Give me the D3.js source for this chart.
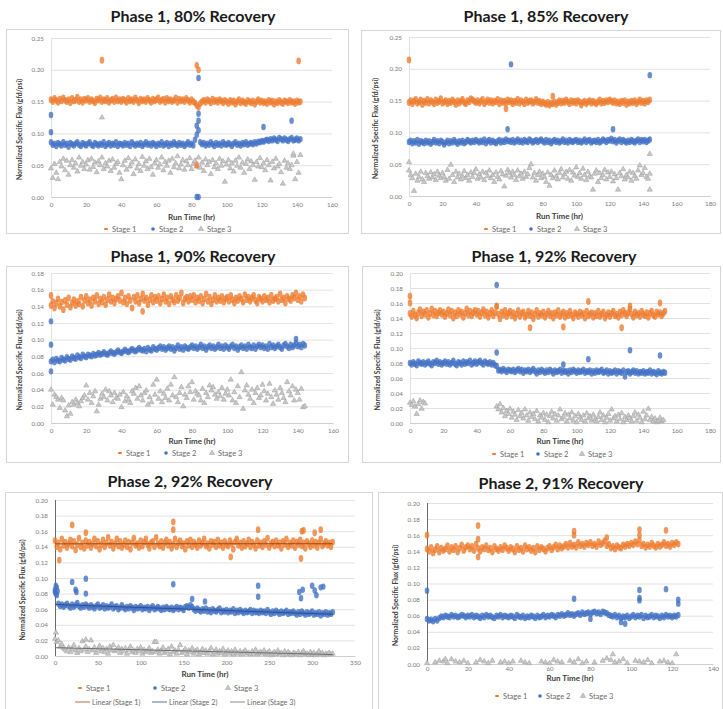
<!DOCTYPE html>
<html>
<head>
<meta charset="utf-8">
<script src="https://cdn.jsdelivr.net/npm/d3@7"></script>
<style>
  body { margin: 0; background: #fff; }
  text { font-family: Lato, "Open Sans", sans-serif; }
</style>
</head>
<body>
<svg id="chart" width="723" height="709"></svg>
<script>
// flux readings in 0.001 gfd/psi, one reading per sampling step (hr)
// ---------- Phase 1, 80% Recovery (step 1 hr) ----------
const p1Stage1 = [153,150,155,152,149,154,151,156,152,150,153,148,155,151,152,157,150,153,149,154,
  152,155,150,153,151,148,154,152,156,150,153,151,155,149,152,154,150,156,151,153,
  150,154,152,149,155,151,153,150,156,152,148,154,151,153,150,155,152,149,154,151,
  153,156,150,152,154,149,155,151,153,150,152,156,149,154,151,153,150,155,152,149,
  153,150,148,144,141,147,150,152,149,153,151,148,154,150,152,149,153,151,148,152,
  150,147,152,149,151,146,150,153,148,151,149,147,152,150,148,151,146,150,153,149,
  151,148,150,147,152,149,151,146,150,148,152,149,147,151,150,148,152,149,150,147,
  151,149,150];
const p1Stage2 = [86,82,84,80,85,83,81,86,82,84,79,85,83,81,84,86,82,80,85,83,
  81,84,86,82,80,85,83,81,84,82,86,80,83,85,81,84,82,86,80,84,
  83,81,85,82,84,80,86,83,81,84,82,85,80,83,86,82,84,81,85,83,
  80,84,82,86,81,83,85,80,84,82,86,83,81,85,82,84,80,83,86,82,
  84,81,90,98,105,86,83,85,81,84,82,86,83,80,85,82,84,81,86,83,
  82,85,83,80,84,86,82,84,81,85,83,86,82,84,85,83,86,84,87,86,
  88,87,89,90,88,91,89,92,90,88,93,91,89,92,90,88,91,93,89,90,
  92,89,91];
const p1Stage3 = [45,30,52,38,28,55,48,60,42,57,35,50,58,46,53,40,62,49,55,44,
  51,58,43,60,47,54,39,56,50,62,44,53,48,57,41,59,46,52,55,38,
  28,50,57,43,61,48,54,36,59,45,52,41,63,49,56,44,60,47,35,53,
  58,46,51,62,42,55,49,57,38,60,47,53,64,45,51,58,43,56,50,61,
  44,52,57,48,62,46,54,41,59,50,55,36,58,47,53,44,60,49,56,24,
  51,58,45,53,40,57,49,62,46,54,38,52,59,44,56,50,27,55,48,61,
  47,53,42,58,50,26,55,45,60,48,52,39,21,57,46,53,44,50,65,28,
  55,38,66];
const p1Out1 = [[29,215],[83,207],[84,200],[141,214],[83,50]];
const p1Out2 = [[0,129],[0,102],[84,187],[84,131],[84,120],[83,112],[121,110],[137,120],[83,0],[84,0]];
const p1Out3 = [[29,125],[138,68]];

// ---------- Phase 1, 85% Recovery (step 1 hr) ----------
const p2Stage1 = [147,150,145,149,152,146,148,151,144,149,147,152,146,150,148,145,151,147,149,153,
  146,148,150,145,149,147,151,148,144,150,146,149,152,147,145,150,148,153,151,149,
  147,150,146,149,152,145,148,151,147,150,146,149,148,152,145,150,147,149,146,151,
  148,150,145,149,147,152,146,150,148,145,151,147,149,150,146,148,152,147,149,145,
  148,146,144,147,143,146,145,148,144,147,150,146,149,147,151,148,145,150,147,149,
  146,150,148,143,147,149,145,148,150,146,149,147,145,148,151,146,149,147,150,148,
  151,149,147,150,146,148,145,149,147,150,144,148,146,149,147,150,145,148,151,147,
  149,146,150,148,151];
const p2Stage2 = [85,87,83,86,84,88,82,86,85,83,87,84,86,82,85,88,84,86,83,87,
  85,81,84,87,83,86,84,88,85,82,86,84,87,83,85,88,86,84,87,85,
  88,86,84,87,85,89,83,86,88,84,87,85,83,86,88,84,87,85,89,86,
  87,85,88,84,86,89,85,87,84,88,86,85,89,87,84,86,88,85,87,89,
  86,84,88,85,87,83,86,88,85,87,84,86,89,85,87,84,88,86,85,87,
  88,85,87,84,86,89,85,87,88,84,86,87,85,88,84,86,89,87,85,88,
  87,90,86,88,84,87,89,85,88,86,84,87,85,88,86,84,87,89,85,88,
  86,88,85,87,89];
const p2Stage3 = [40,33,28,8,35,24,30,38,26,22,36,31,27,37,29,34,25,38,32,28,
  36,30,24,41,27,49,33,22,38,29,35,26,31,39,28,33,24,37,30,36,
  42,27,34,29,38,25,36,31,40,28,33,22,37,30,26,39,34,15,32,41,
  36,29,38,33,25,40,31,35,27,38,30,34,44,50,29,36,24,33,38,28,
  35,30,22,37,16,33,28,40,31,26,36,42,29,34,38,27,41,24,37,32,
  45,30,36,27,43,33,25,38,31,29,10,35,40,22,36,28,33,41,26,37,
  30,38,23,34,28,10,36,31,42,26,33,29,38,24,36,31,27,40,48,33,
  36,44,30,27,35];
const p2Out1 = [[0,214],[86,157],[58,137]];
const p2Out2 = [[61,207],[144,190],[59,105],[122,105]];
const p2Out3 = [[0,53],[144,66],[144,10]];

// ---------- Phase 1, 90% Recovery (step 1 hr) ----------
const p3Stage1 = [141,146,138,144,149,140,145,136,147,142,150,139,144,148,141,146,143,151,140,147,
  152,144,148,141,150,146,153,143,149,145,151,142,148,154,146,150,144,149,152,147,
  156,145,150,143,152,147,138,151,146,153,144,149,155,147,150,142,148,153,145,151,
  147,152,144,149,154,146,150,143,152,148,145,153,147,150,156,144,149,151,146,152,
  148,153,145,150,147,152,144,149,155,146,151,143,148,153,146,150,147,152,145,149,
  151,146,153,148,144,150,147,152,149,145,154,148,151,146,150,153,147,144,151,149,
  146,152,148,150,145,153,147,149,151,146,155,148,150,144,152,149,147,153,150,156,
  148,152,146,154,150];
const p3Stage2 = [74,76,73,77,75,74,78,76,75,79,77,76,80,78,77,81,79,78,82,80,
  79,82,81,80,83,81,82,84,82,83,85,83,82,84,86,84,83,85,87,85,
  84,86,88,86,85,87,89,87,86,88,90,88,87,89,86,90,88,87,91,89,
  88,90,92,89,91,88,90,92,89,91,87,90,93,89,91,88,92,90,89,91,
  93,90,92,89,91,94,90,92,88,91,93,90,92,89,91,94,90,92,89,93,
  91,89,92,94,90,92,88,91,93,90,92,89,94,91,90,93,89,92,94,91,
  93,90,92,89,95,91,93,90,92,94,91,89,93,95,92,90,94,91,93,96,
  92,94,91,95,93];
const p3Stage3 = [40,22,34,31,28,18,30,27,15,8,21,11,25,22,28,24,20,26,30,33,
  45,28,36,24,32,38,14,22,29,35,31,40,27,38,33,25,36,30,29,34,
  19,37,26,32,28,24,38,35,42,29,44,33,27,36,39,22,31,25,46,34,
  52,29,38,25,35,30,41,27,46,33,55,31,25,36,43,20,34,30,44,37,
  49,28,38,35,33,27,41,24,36,31,45,39,43,34,29,37,32,42,28,35,
  40,33,52,27,37,24,44,31,61,17,39,45,34,29,40,24,36,42,30,33,
  46,38,27,35,47,31,23,39,34,28,42,36,30,25,49,38,33,44,27,40,
  36,28,41,19,20];
const p3Out1 = [[0,153],[52,134]];
const p3Out2 = [[0,122],[0,94],[0,62],[139,101]];
const p3Out3 = [];

// ---------- Phase 1, 92% Recovery (step 1 hr) ----------
const p4Stage1 = [146,142,149,144,140,147,151,143,148,145,150,141,146,152,144,149,143,147,150,145,
  148,142,146,151,144,149,140,147,143,150,145,148,141,146,152,144,149,143,147,150,
  145,149,142,147,151,144,148,141,146,150,143,147,156,145,139,148,144,150,142,146,
  149,143,147,140,145,150,142,146,148,141,144,149,143,147,139,145,150,142,146,144,
  148,141,145,149,143,146,140,147,144,150,142,145,148,141,146,143,149,144,140,147,
  145,142,148,144,146,140,149,143,145,147,141,146,143,149,142,145,148,140,144,147,
  142,146,149,143,145,141,148,144,150,146,143,147,152,145,141,148,144,146,142,149,
  145,143,147,141,146,149,144,142,148,145,147,143,146,149];
const p4Stage2 = [80,78,81,79,77,82,80,79,81,78,80,82,79,77,81,80,83,79,81,78,
  80,82,79,81,78,80,83,79,77,81,80,78,82,79,81,80,83,78,80,82,
  79,81,83,80,78,82,80,79,81,78,80,77,76,70,71,69,72,70,68,71,
  70,69,71,68,70,72,69,71,67,70,69,71,68,70,72,69,66,70,68,71,
  69,67,70,68,71,69,66,70,68,69,71,67,70,68,69,66,70,68,71,69,
  67,70,68,69,71,67,69,68,70,66,69,67,70,68,69,71,67,68,70,66,
  69,67,68,70,66,69,68,67,70,62,68,69,66,68,70,67,69,66,68,67,
  69,66,68,67,70,66,68,67,65,69,67,66,68,67];
const p4Stage3a = [27,24,29,22,12,25,30,19,28,26];           // from 0 hr
const p4Stage3b = [22,18,25,14,20,9,16,12,19,7,15,11,4,17,9,13,6,18,10,3,   // from 52 hr
  14,8,12,5,16,2,10,7,13,4,11,1,9,15,6,12,3,10,18,5,
  8,13,2,11,6,14,3,9,1,12,7,4,10,2,13,6,9,3,11,5,
  2,8,14,4,10,1,7,12,3,18,6,9,2,11,5,13,1,8,4,10,
  6,2,9,14,3,11,7,1,15,5,10,19,4,8,2,6,1,3,7,2,4];
const p4Out1 = [[0,169],[0,160],[107,162],[150,160],[52,155],[72,127],[92,128],[127,127],[132,156]];
const p4Out2 = [[52,184],[52,94],[107,85],[132,97],[150,90],[92,78]];
const p4Out3 = [];

// ---------- Phase 2, 92% Recovery (step 2 hr) ----------
const p5Stage1 = [148,140,145,137,150,142,146,139,144,149,141,147,136,143,151,140,145,138,148,142,
  146,139,144,150,141,147,137,143,149,140,145,152,142,146,138,144,150,141,147,139,
  143,148,140,146,137,145,151,142,144,139,148,141,146,150,143,138,145,147,140,152,
  144,141,147,139,145,149,142,146,138,143,150,140,145,148,141,144,137,147,142,149,
  140,146,143,139,148,142,145,150,141,144,138,147,143,146,140,149,142,145,139,147,
  143,141,148,144,137,146,150,142,145,139,147,141,144,149,140,146,143,138,148,142,
  145,140,147,143,151,139,144,146,141,148,142,145,138,147,143,150,140,145,142,148,
  139,146,143,149,141,145,138,147,144,140,148,142,146,139,145,150,141,144,147,142,
  145,140,146];
const p5Stage2 = [82,78,67,64,66,63,65,67,64,62,66,63,65,68,64,62,65,63,66,64,
  62,65,63,61,64,66,62,63,65,61,64,62,63,66,61,63,64,60,62,65,
  62,60,63,61,64,62,59,63,61,62,64,60,62,61,63,59,62,64,60,61,
  63,61,59,62,60,63,61,60,62,59,61,63,60,62,61,59,63,64,62,65,
  63,60,58,61,59,57,60,58,61,57,59,56,60,58,57,59,61,56,58,57,
  59,56,58,57,60,55,58,56,59,57,55,58,56,57,59,55,58,56,57,55,
  58,56,57,55,59,56,54,57,55,58,56,54,57,55,56,58,54,56,55,57,
  55,53,56,54,57,55,53,56,54,55,57,53,55,54,56,52,55,54,56,53,
  55,54,56];
const p5Stage3 = [22,18,20,12,15,10,8,6,11,5,9,14,7,4,10,6,19,8,12,5,
  9,20,7,11,4,8,13,6,10,5,9,3,12,7,14,6,8,11,4,9,
  6,10,3,8,12,5,7,4,9,6,11,3,8,5,7,10,4,6,18,5,
  8,3,7,11,4,6,9,2,12,5,7,3,8,14,4,6,9,2,7,5,
  10,3,6,8,2,5,9,4,7,3,6,10,2,5,8,3,6,4,9,2,
  5,7,3,6,2,8,4,3,6,2,5,7,3,4,2,6,3,8,2,4,
  5,3,7,2,4,6,1,3,5,2,7,3,4,1,6,2,5,3,1,4,
  3,2,5,1,4,6,2,3,1,5,2,4,1,3,6,2,4,1,3,2,
  4,2,3];
const p5Out1 = [[20,168],[36,158],[138,172],[138,162],[237,162],[288,160],[290,161],[303,158],[310,162],[5,123],[287,125],[205,127]];
const p5Out2 = [[0,85],[1,90],[2,88],[3,83],[1,80],[20,95],[24,85],[25,82],[36,99],[36,80],[138,92],[160,73],[175,70],
  [237,90],[237,76],[285,82],[287,74],[289,85],[300,90],[303,84],[305,78],[310,88],[313,89]];
const p5Out3 = [[1,30],[118,18],[36,21]];

// ---------- Phase 2, 91% Recovery (stage 1/2 step 1 hr, stage 3 step 2 hr) ----------
const p6Stage1 = [143,140,145,138,142,146,139,144,141,143,147,140,145,142,146,139,144,148,141,145,
  147,143,146,141,149,144,140,145,143,147,142,144,139,146,143,141,145,142,147,144,
  141,145,143,139,146,142,144,140,147,143,145,141,144,139,146,142,145,143,140,144,
  146,142,145,148,143,147,144,146,149,145,150,146,148,145,151,147,149,146,150,148,
  151,147,149,146,152,148,150,153,147,149,144,146,143,147,145,144,148,146,149,147,
  150,148,152,149,154,147,149,145,148,146,150,147,145,149,146,148,151,147,149,146,
  150,148,151,149];
const p6Stage2 = [56,54,55,53,56,54,57,59,58,60,59,58,61,59,60,58,59,61,60,58,
  60,59,61,58,60,59,57,60,58,61,59,60,58,57,60,59,61,58,60,59,
  58,60,59,57,61,59,58,60,57,59,58,60,59,57,60,58,59,61,58,60,
  59,61,60,58,61,60,62,60,61,63,61,62,60,62,63,61,64,62,63,64,
  62,64,65,63,64,62,65,64,63,61,60,59,61,58,60,57,59,58,60,57,
  59,61,58,60,59,61,57,60,58,59,61,58,60,59,57,60,58,61,59,60,
  58,60,59,61];
const p6Stage3 = [1,null,2,4,3,1,6,3,2,4,1,null,2,5,3,1,4,null,2,3,
  1,3,null,4,2,1,null,null,3,2,1,5,3,2,null,4,2,6,1,3,
  null,2,null,4,7,5,2,3,6,1,null,4,3,2,5,1,null,3,4,2,
  1,12];
const p6Out1 = [[0,160],[25,172],[25,155],[25,133],[72,165],[72,160],[104,167],[104,160],[117,166],[88,157]];
const p6Out2 = [[0,91],[72,81],[104,92],[104,82],[104,79],[117,93],[123,80],[123,75],[97,50],[95,52],[80,56]];
const p6Out3 = [[91,12],[9,6]];

// ---------- axis ticks ----------
const yTicks25 = [0, 0.05, 0.10, 0.15, 0.20, 0.25];
const yTicks18 = [0, 0.02, 0.04, 0.06, 0.08, 0.10, 0.12, 0.14, 0.16, 0.18];
const yTicks20 = [0, 0.02, 0.04, 0.06, 0.08, 0.10, 0.12, 0.14, 0.16, 0.18, 0.20];
const xTicks160 = [0, 20, 40, 60, 80, 100, 120, 140, 160];
const xTicks180 = [0, 20, 40, 60, 80, 100, 120, 140, 160, 180];
const xTicks350 = [0, 50, 100, 150, 200, 250, 300, 350];
const xTicks140 = [0, 20, 40, 60, 80, 100, 120, 140];

const stageNames = ["Stage 1", "Stage 2", "Stage 3"];
const trendNames = ["Linear (Stage 1)", "Linear (Stage 2)", "Linear (Stage 3)"];

const C1 = "#ED7D31", C2 = "#4472C4", C3 = "#A5A5A5";
const trendColors = ["#9E4A12", "#2F4F8F", "#6F6F6F"];

const svg = d3.select("#chart");
const fmt = d3.format(".2f");

// turns a reading list into [hr, flux] points
function toPoints(values, start, step) {
  return values
    .map((v, i) => v == null ? null : [start + i * step, v / 1000])
    .filter(d => d);
}
function outPoints(list) { return list.map(d => [d[0], d[1] / 1000]); }

const panels = [
  { title: "Phase 1, 80% Recovery", tx: 193, ty: 22, frame: [6, 29, 348, 233],
    xr: [51, 332], yr: [197, 38], xMax: 160, yMax: 0.25, xt: xTicks160, yt: yTicks25,
    s1: toPoints(p1Stage1, 0, 1).concat(outPoints(p1Out1)),
    s2: toPoints(p1Stage2, 0, 1).concat(outPoints(p1Out2)),
    s3: toPoints(p1Stage3, 0, 1).concat(outPoints(p1Out3)),
    xPad: 6, xTitleY: 220, yTitleX: 22, legendY: 229, legendX: [106, 153, 201], darkAxis: false },
  { title: "Phase 1, 85% Recovery", tx: 546, ty: 22, frame: [361, 30, 720, 233],
    xr: [409, 710], yr: [196, 37], xMax: 180, yMax: 0.25, xt: xTicks180, yt: yTicks25,
    s1: toPoints(p2Stage1, 0, 1).concat(outPoints(p2Out1)),
    s2: toPoints(p2Stage2, 0, 1).concat(outPoints(p2Out2)),
    s3: toPoints(p2Stage3, 0, 1).concat(outPoints(p2Out3)),
    xPad: 6, xTitleY: 219, yTitleX: 378, legendY: 229, legendX: [486, 531, 577], darkAxis: false },
  { title: "Phase 1, 90% Recovery", tx: 193, ty: 262, frame: [6, 266, 348, 462],
    xr: [51, 333], yr: [423, 273], xMax: 160, yMax: 0.18, xt: xTicks160, yt: yTicks18,
    s1: toPoints(p3Stage1, 0, 1).concat(outPoints(p3Out1)),
    s2: toPoints(p3Stage2, 0, 1).concat(outPoints(p3Out2)),
    s3: toPoints(p3Stage3, 0, 1).concat(outPoints(p3Out3)),
    xPad: 6, xTitleY: 444, yTitleX: 22, legendY: 453, legendX: [120, 166, 212], darkAxis: false },
  { title: "Phase 1, 92% Recovery", tx: 554, ty: 262, frame: [362, 266, 720, 462],
    xr: [410, 710], yr: [423, 273], xMax: 180, yMax: 0.20, xt: xTicks180, yt: yTicks20,
    s1: toPoints(p4Stage1, 0, 1).concat(outPoints(p4Out1)),
    s2: toPoints(p4Stage2, 0, 1).concat(outPoints(p4Out2)),
    s3: toPoints(p4Stage3a, 0, 1).concat(toPoints(p4Stage3b, 52, 1), outPoints(p4Out3)),
    xPad: 6, xTitleY: 444, yTitleX: 380, legendY: 454, legendX: [494, 538, 582], darkAxis: false },
  { title: "Phase 2, 92% Recovery", tx: 190, ty: 487, frame: [5, 492, 372, 712],
    xr: [55, 355], yr: [656, 500], xMax: 350, yMax: 0.20, xt: xTicks350, yt: yTicks20,
    s1: toPoints(p5Stage1, 0, 2).concat(outPoints(p5Out1)),
    s2: toPoints(p5Stage2, 0, 2).concat(outPoints(p5Out2)),
    s3: toPoints(p5Stage3, 0, 2).concat(outPoints(p5Out3)),
    trend: [toPoints(p5Stage1, 0, 2), toPoints(p5Stage2, 0, 2), toPoints(p5Stage3, 0, 2)],
    xPad: 5, xTitleY: 677, yTitleX: 25, legendY: 688, legendX: [80, 155, 228], darkAxis: true,
    legend2Y: 702, legend2X: [75, 152, 230] },
  { title: "Phase 2, 91% Recovery", tx: 561, ty: 489, frame: [378, 492, 722, 712],
    xr: [427, 713], yr: [664, 503], xMax: 140, yMax: 0.20, xt: xTicks140, yt: yTicks20,
    s1: toPoints(p6Stage1, 0, 1).concat(outPoints(p6Out1)),
    s2: toPoints(p6Stage2, 0, 1).concat(outPoints(p6Out2)),
    s3: toPoints(p6Stage3, 0, 2).concat(outPoints(p6Out3)),
    xPad: 3, xTitleY: 681, yTitleX: 398, legendY: 696, legendX: [497, 540, 583], darkAxis: true }
];

const triangle = d3.symbol(d3.symbolTriangle, 12)();

function drawPanel(p) {
  const g = svg.append("g");
  g.append("rect")
    .attr("x", p.frame[0] + 0.5).attr("y", p.frame[1] + 0.5)
    .attr("width", p.frame[2] - p.frame[0]).attr("height", p.frame[3] - p.frame[1])
    .attr("fill", "none").attr("stroke", "#d6d6d6");

  g.append("text")
    .attr("x", p.tx).attr("y", p.ty)
    .attr("text-anchor", "middle")
    .attr("font-size", 16).attr("font-weight", 700).attr("fill", "#1a1a1a")
    .text(p.title);

  const x = d3.scaleLinear().domain([0, p.xMax]).range(p.xr);
  const y = d3.scaleLinear().domain([0, p.yMax]).range(p.yr);

  // horizontal gridlines + y tick labels
  g.append("g")
    .attr("transform", `translate(${p.xr[0]},0)`)
    .call(d3.axisLeft(y).tickValues(p.yt).tickFormat(fmt)
      .tickSize(-(p.xr[1] - p.xr[0])).tickPadding(7))
    .call(a => {
      a.select(".domain").remove();
      a.selectAll("line").attr("stroke", "#e2e2e2");
      a.selectAll("text").attr("fill", "#7a7a7a").attr("font-size", 6.3)
        .style("font-family", "Lato, sans-serif");
    });

  // x axis
  g.append("g")
    .attr("transform", `translate(0,${p.yr[0]})`)
    .call(d3.axisBottom(x).tickValues(p.xt).tickSize(0).tickPadding(p.xPad))
    .call(a => {
      a.select(".domain").attr("stroke", "#cfcfcf");
      a.selectAll("text").attr("fill", "#7a7a7a").attr("font-size", 6.3)
        .style("font-family", "Lato, sans-serif");
    });

  // y axis line
  g.append("line")
    .attr("x1", p.xr[0] + 0.5).attr("x2", p.xr[0] + 0.5)
    .attr("y1", p.yr[1]).attr("y2", p.yr[0])
    .attr("stroke", p.darkAxis ? "#6b6b6b" : "#e2e2e2");

  // axis titles
  g.append("text")
    .attr("x", (p.xr[0] + p.xr[1]) / 2).attr("y", p.xTitleY)
    .attr("text-anchor", "middle").attr("font-size", 8).attr("font-weight", 700)
    .attr("fill", "#404040").text("Run Time (hr)");
  const ym = (p.yr[0] + p.yr[1]) / 2 + 12;
  g.append("text")
    .attr("transform", `translate(${p.yTitleX},${ym}) rotate(-90)`)
    .attr("text-anchor", "middle").attr("font-size", 6.8).attr("font-weight", 700)
    .attr("fill", "#404040").text("Normalized Specific Flux (gfd/psi)");

  // series: dense readings drawn as small soft dots
  g.append("g").selectAll("path").data(p.s3).join("path")
    .attr("d", triangle)
    .attr("transform", d => `translate(${x(d[0])},${y(d[1])})`)
    .attr("fill", "#c8c8c8").attr("stroke", "#9a9a9a").attr("stroke-width", 0.5);

  g.append("g").selectAll("ellipse").data(p.s1).join("ellipse")
    .attr("cx", d => x(d[0])).attr("cy", d => y(d[1])).attr("rx", 2.3).attr("ry", 3.4)
    .attr("fill", C1).attr("opacity", 0.8);

  g.append("g").selectAll("ellipse").data(p.s2).join("ellipse")
    .attr("cx", d => x(d[0])).attr("cy", d => y(d[1])).attr("rx", 2.3).attr("ry", 3.2)
    .attr("fill", C2).attr("opacity", 0.8);

  // linear trend lines (least squares on the readings)
  if (p.trend) {
    p.trend.forEach((pts, k) => {
      const mx = d3.mean(pts, d => d[0]), my = d3.mean(pts, d => d[1]);
      const slope = d3.sum(pts, d => (d[0] - mx) * (d[1] - my)) / d3.sum(pts, d => (d[0] - mx) ** 2);
      const x0 = d3.min(pts, d => d[0]), x1 = d3.max(pts, d => d[0]);
      g.append("line")
        .attr("x1", x(x0)).attr("x2", x(x1))
        .attr("y1", y(my + slope * (x0 - mx))).attr("y2", y(my + slope * (x1 - mx)))
        .attr("stroke", trendColors[k]).attr("stroke-width", 1);
    });
  }

  // legend
  const markers = [
    s => s.append("rect").attr("x", -1.8).attr("y", -1).attr("width", 3.6).attr("height", 2).attr("fill", C1),
    s => s.append("circle").attr("r", 1.8).attr("fill", C2),
    s => s.append("path").attr("d", triangle).attr("fill", "#c8c8c8").attr("stroke", "#9a9a9a").attr("stroke-width", 0.5)
  ];
  stageNames.forEach((name, i) => {
    const lg = g.append("g").attr("transform", `translate(${p.legendX[i]},${p.legendY})`);
    markers[i](lg);
    lg.append("text").attr("x", 6).attr("y", 2.8).attr("font-size", 7.5)
      .attr("fill", "#6a6a6a").text(name);
  });
  if (p.legend2X) {
    trendNames.forEach((name, i) => {
      const lg = g.append("g").attr("transform", `translate(${p.legend2X[i]},${p.legend2Y})`);
      lg.append("line").attr("x1", 0).attr("x2", 15).attr("stroke", trendColors[i]).attr("stroke-width", 0.8);
      lg.append("text").attr("x", 17).attr("y", 2.6).attr("font-size", 7.2)
        .attr("fill", "#6a6a6a").text(name);
    });
  }
}

panels.forEach(drawPanel);
</script>
</body>
</html>
